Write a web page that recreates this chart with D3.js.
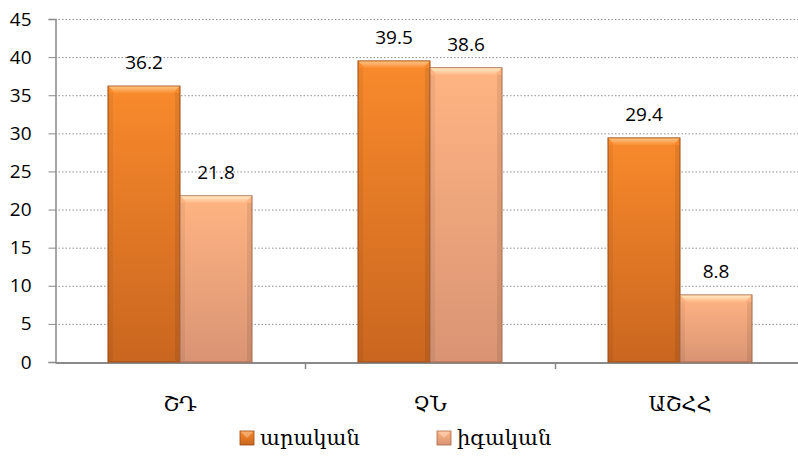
<!DOCTYPE html>
<html>
<head>
<meta charset="utf-8">
<script src="https://cdn.jsdelivr.net/npm/d3@7"></script>
<style>
  body { margin: 0; background: #fff; }
  svg { display: block; }
</style>
</head>
<body>
<svg id="chart" width="798" height="459"></svg>
<script>
const categories = ["ՇԴ", "ՉՆ", "ԱՇՀՀ"];
const seriesNames = ["արական", "իգական"];
const maleValues = [36.2, 39.5, 29.4];
const femaleValues = [21.8, 38.6, 8.8];
const yTicks = [0, 5, 10, 15, 20, 25, 30, 35, 40, 45];

const svg = d3.select("#chart");
const margin = { left: 55, top: 19, bottom: 97 };
const plotW = 750, plotH = 459 - margin.top - margin.bottom;

const x = d3.scaleBand().domain(categories).range([margin.left, margin.left + plotW]).paddingInner(0).paddingOuter(0);
const xs = d3.scaleBand().domain(seriesNames).range([0, x.bandwidth()]).paddingInner(0).paddingOuter(0.736);
const y = d3.scaleLinear().domain([0, 45]).range([margin.top + plotH, margin.top]);

const defs = svg.append("defs");
function grad(id, stops) {
  const g = defs.append("linearGradient").attr("id", id).attr("x1", 0).attr("x2", 0).attr("y1", 0).attr("y2", 1);
  stops.forEach(([o, c]) => g.append("stop").attr("offset", o).attr("stop-color", c));
}
grad("gMale", [["0%", "#F98A2C"], ["100%", "#C9661F"]]);
grad("gFemale", [["0%", "#FFB482"], ["100%", "#D99474"]]);
grad("gTopM", [["0%", "#FFC98A"], ["100%", "#F98A2C"]]);
grad("gTopF", [["0%", "#FFF0C8"], ["100%", "#FFB482"]]);

// gridlines
svg.append("g").selectAll("line").data(yTicks.filter(d => d > 0)).join("line")
  .attr("x1", margin.left).attr("x2", 798)
  .attr("y1", d => y(d) + 0.5).attr("y2", d => y(d) + 0.5)
  .attr("stroke", "#8f8f8f").attr("stroke-width", 1).attr("stroke-dasharray", "1.5,2");

// y axis
const yAxis = svg.append("g").attr("transform", `translate(${margin.left + 0.5},0)`)
  .call(d3.axisLeft(y).tickValues(yTicks).tickSize(7).tickPadding(17));
yAxis.select(".domain").attr("stroke", "#8a8a8a").attr("stroke-width", 1.5);
yAxis.selectAll(".tick line").attr("stroke", "#8a8a8a");
yAxis.selectAll("text").attr("font-family", "'Open Sans', 'Noto Sans', sans-serif").attr("font-size", 19).attr("fill", "#000");

// x axis
const xAxis = svg.append("g").attr("transform", `translate(0,${y(0) + 0.5})`)
  .call(d3.axisBottom(x).tickSize(0).tickPadding(34));
xAxis.select(".domain").attr("stroke", "#8a8a8a").attr("stroke-width", 2);
xAxis.selectAll("text").attr("font-family", "'DejaVu Serif', serif").attr("font-size", 21).attr("fill", "#000");
// category separators
svg.append("g").selectAll("line").data(categories.slice(1)).join("line")
  .attr("x1", d => x(d) + 0.5).attr("x2", d => x(d) + 0.5)
  .attr("y1", y(0)).attr("y2", y(0) + 7)
  .attr("stroke", "#8a8a8a").attr("stroke-width", 1.5);

const data = categories.map((c, i) => ({ c, vals: [
  { s: seriesNames[0], v: maleValues[i], fill: "url(#gMale)", top: "url(#gTopM)", edge: "#9b4a12" },
  { s: seriesNames[1], v: femaleValues[i], fill: "url(#gFemale)", top: "url(#gTopF)", edge: "#a86a4a" }
]}));

const groups = svg.append("g").selectAll("g").data(data).join("g")
  .attr("transform", d => `translate(${x(d.c)},0)`);

const bars = groups.selectAll("g").data(d => d.vals).join("g");
bars.append("rect")
  .attr("x", d => xs(d.s)).attr("width", xs.bandwidth())
  .attr("y", d => y(d.v)).attr("height", d => y(0) - y(d.v))
  .attr("fill", d => d.fill).attr("stroke", d => d.edge).attr("stroke-width", 1);
// bevel highlight at top
bars.append("path")
  .attr("d", d => {
    const x0 = xs(d.s) + 0.5, x1 = xs(d.s) + xs.bandwidth() - 0.5, t = y(d.v) + 0.5, b = 7;
    return `M${x0},${t}L${x1},${t}L${x1 - b},${t + b}L${x0 + b},${t + b}Z`;
  })
  .attr("fill", d => d.top).attr("opacity", 0.9);
// side shading
bars.append("rect")
  .attr("x", d => xs(d.s) + xs.bandwidth() - 5).attr("width", 4.5)
  .attr("y", d => y(d.v) + 7).attr("height", d => Math.max(0, y(0) - y(d.v) - 8))
  .attr("fill", "#000").attr("opacity", 0.08);
bars.append("rect")
  .attr("x", d => xs(d.s) + 0.5).attr("width", 4.5)
  .attr("y", d => y(d.v) + 7).attr("height", d => Math.max(0, y(0) - y(d.v) - 8))
  .attr("fill", "#000").attr("opacity", 0.05);
// value labels
bars.append("text")
  .attr("x", d => xs(d.s) + xs.bandwidth() / 2).attr("y", d => y(d.v) - 17)
  .attr("text-anchor", "middle").attr("font-family", "'Open Sans', 'Noto Sans', sans-serif")
  .attr("font-size", 19).attr("fill", "#000").text(d => d.v.toFixed(1));

// legend
const legend = svg.append("g").attr("transform", "translate(0,438)");
const legendItems = [
  { name: seriesNames[0], fill: "url(#gMale)", edge: "#9b4a12", x: 240 },
  { name: seriesNames[1], fill: "url(#gFemale)", edge: "#a86a4a", x: 437 }
];
const li = legend.selectAll("g").data(legendItems).join("g").attr("transform", d => `translate(${d.x},0)`);
li.append("rect").attr("x", 0).attr("y", -7).attr("width", 14).attr("height", 14)
  .attr("fill", d => d.fill).attr("stroke", d => d.edge).attr("stroke-width", 0.8);
li.append("path").attr("d", "M0.5,-6.5L13.5,-6.5L7,0Z").attr("fill", "#fff").attr("opacity", 0.3);
li.append("text").attr("x", 20).attr("y", 7).attr("font-family", "'DejaVu Serif', serif")
  .attr("font-size", 21).attr("fill", "#000").text(d => d.name);
</script>
</body>
</html>
